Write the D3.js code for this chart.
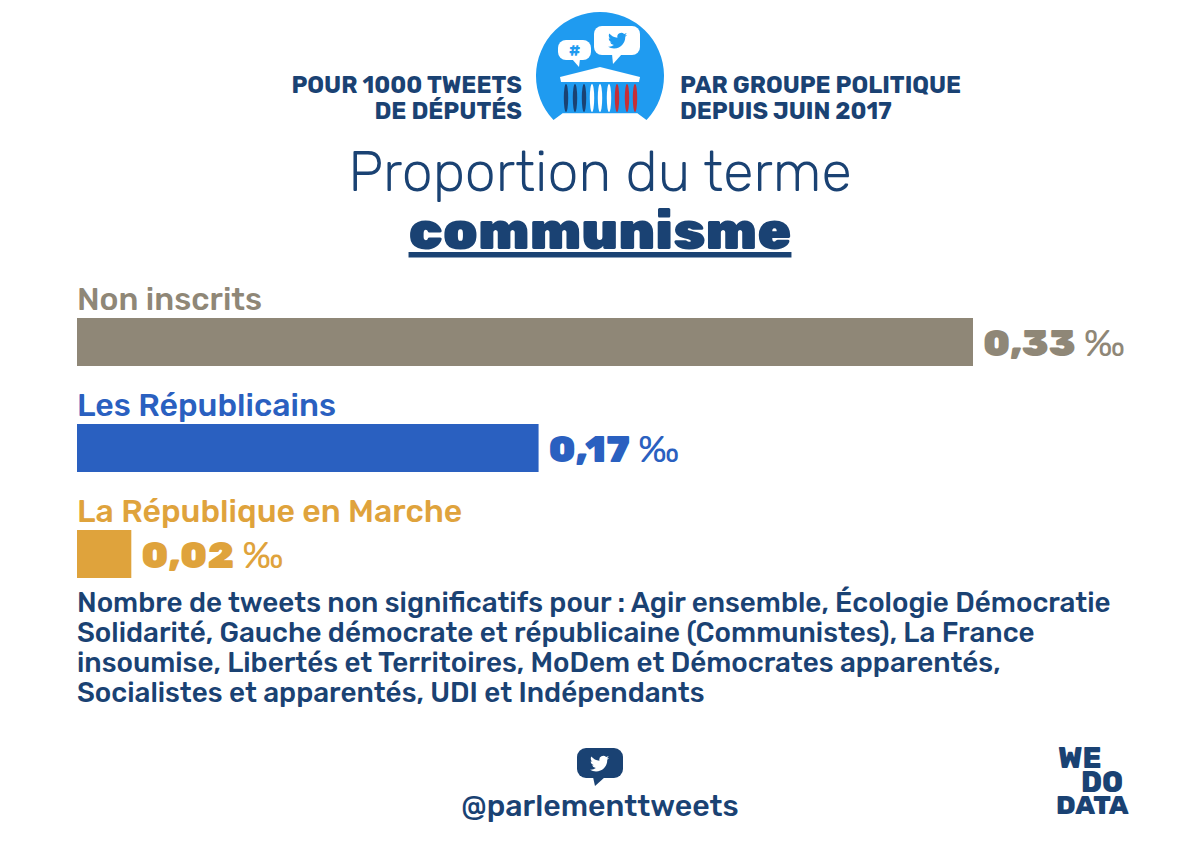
<!DOCTYPE html>
<html>
<head>
<meta charset="utf-8">
<script src="https://cdnjs.cloudflare.com/ajax/libs/d3/7.8.5/d3.min.js"></script>
<style>
  html, body { margin: 0; background: #fff; }
  svg { display: block; font-family: Rubik, Roboto, "Open Sans", sans-serif; }
</style>
</head>
<body>
<svg id="chart" width="1200" height="868"></svg>
<script>
const groups = ['Non inscrits', 'Les Républicains', 'La République en Marche'];
const values = [0.33, 0.17, 0.02];
const valueLabels = ['0,33', '0,17', '0,02'];
const colors = ['#8f8777', '#2a60c0', '#dfa33c'];
const footnote = [
  'Nombre de tweets non significatifs pour : Agir ensemble, Écologie Démocratie',
  'Solidarité, Gauche démocrate et républicaine (Communistes), La France',
  'insoumise, Libertés et Territoires, MoDem et Démocrates apparentés,',
  'Socialistes et apparentés, UDI et Indépendants'
];
const navy = '#1a4273';
const sky = '#1f9bf0';
const birdPath = 'M23.953 4.57a10 10 0 01-2.825.775 4.958 4.958 0 002.163-2.723c-.951.555-2.005.959-3.127 1.184a4.92 4.92 0 00-8.384 4.482C7.69 8.095 4.067 6.13 1.64 3.162a4.822 4.822 0 00-.666 2.475c0 1.71.87 3.213 2.188 4.096a4.904 4.904 0 01-2.228-.616v.06a4.923 4.923 0 003.946 4.827 4.996 4.996 0 01-2.212.085 4.936 4.936 0 004.604 3.417 9.867 9.867 0 01-6.102 2.105c-.39 0-.779-.023-1.17-.067a13.995 13.995 0 007.557 2.209c9.053 0 13.998-7.496 13.998-13.985 0-.21 0-.42-.015-.63A9.935 9.935 0 0024 4.59z';

const svg = d3.select('#chart');
const x = d3.scaleLinear().domain([0, 0.33]).range([0, 896]);

function label(txt, px, py, size, weight, fill, anchor) {
  return svg.append('text').attr('x', px).attr('y', py)
    .attr('font-size', size).attr('font-weight', weight)
    .attr('fill', fill).attr('text-anchor', anchor || 'start').text(txt);
}

// header
label('POUR 1000 TWEETS', 522, 93, 23.6, 700, navy, 'end');
label('DE DÉPUTÉS', 522, 119, 23.6, 700, navy, 'end');
label('PAR GROUPE POLITIQUE', 680, 93, 23.5, 700, navy);
label('DEPUIS JUIN 2017', 680, 119, 23.5, 700, navy);
label('Proportion du terme', 600, 191, 55.5, 300, navy, 'middle');
label('communisme', 600, 249, 55, 900, navy, 'middle').attr('text-decoration', 'underline');

// logo
const logo = svg.append('g');
logo.append('path')
  .attr('d', 'M553.5,120 A64,64 0 1 1 646.5,120 L637,113 L563,113 Z')
  .attr('fill', sky);
logo.append('path').attr('d', 'M600,67 L640,77 L639,82 L561,82 L560,77 Z').attr('fill', '#fff');
const pillars = [[566, '#1a4273'], [575, '#1a4273'], [584, '#1a4273'], [592, '#fff'], [600, '#fff'], [609, '#fff'], [617, '#c62f36'], [627, '#c62f36'], [635, '#c62f36']];
logo.selectAll('ellipse').data(pillars).join('ellipse')
  .attr('cx', d => d[0]).attr('cy', 98).attr('rx', 2.2).attr('ry', 14).attr('fill', d => d[1]);
logo.append('path').attr('d', 'M563,113.5 L637,113.5').attr('stroke', '#cfe8fb').attr('stroke-width', 1);
logo.append('rect').attr('x', 594).attr('y', 26).attr('width', 46).attr('height', 29).attr('rx', 8).attr('fill', '#fff');
logo.append('path').attr('d', 'M612,54 L613,64 L622,54 Z').attr('fill', '#fff');
logo.append('path').attr('d', birdPath).attr('transform', 'translate(608,31) scale(0.8)').attr('fill', sky);
logo.append('rect').attr('x', 558).attr('y', 40).attr('width', 33).attr('height', 20).attr('rx', 8).attr('fill', '#fff');
logo.append('path').attr('d', 'M572,59 L579,67 L580,59 Z').attr('fill', '#fff');
logo.append('text').attr('x', 574.5).attr('y', 56).attr('text-anchor', 'middle').attr('font-size', 17).attr('font-weight', 700).attr('fill', sky).text('#');

// bars
groups.forEach((g, i) => {
  const top = 318 + i * 106;
  label(g, 77, top - 8, 32, 500, colors[i]);
  svg.append('rect').attr('x', 77).attr('y', top).attr('width', x(values[i])).attr('height', 48).attr('fill', colors[i]);
  const t = label(valueLabels[i], 77 + x(values[i]) + 10, top + 38, 38, 900, colors[i]);
  t.append('tspan').attr('font-size', 38).attr('font-weight', 400).attr('dx', 8).text('‰');
});

footnote.forEach((l, i) => label(l, 77, 612 + i * 30, 27.8, 500, navy));

// footer
label('@parlementtweets', 600, 816, 30.3, 500, navy, 'middle');
const bubble = svg.append('g');
bubble.append('rect').attr('x', 577).attr('y', 748).attr('width', 46).attr('height', 30).attr('rx', 9).attr('fill', navy);
bubble.append('path').attr('d', 'M593,777 L595,786 L605,777 Z').attr('fill', navy);
bubble.append('path').attr('d', birdPath).attr('transform', 'translate(590,754) scale(0.8)').attr('fill', '#fff');
label('WE', 1058, 768, 29, 800, navy);
label('DO', 1081, 792, 29, 800, navy);
label('DATA', 1056, 814, 27, 800, navy);
</script>
</body>
</html>
